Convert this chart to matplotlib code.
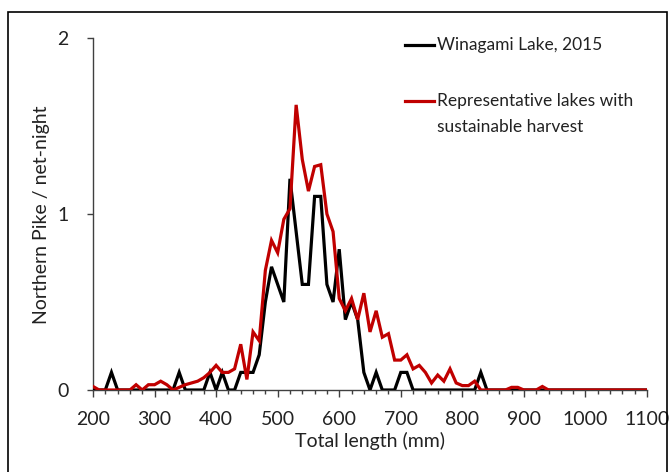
import matplotlib
matplotlib.use('Agg')
import matplotlib.pyplot as plt
import numpy as np
from matplotlib.patches import Rectangle
from matplotlib.ticker import MultipleLocator

plt.rcParams['font.family'] = ['Lato', 'DejaVu Sans']

# total length bins, mm (10 mm steps)
lengths = list(range(200, 1110, 10))

# Winagami Lake, 2015 - pike per net-night
winagami = [
    0, 0, 0, 0.1, 0, 0, 0, 0, 0, 0,            # 200-290
    0, 0, 0, 0, 0.1, 0, 0, 0, 0, 0.1,          # 300-390
    0, 0.1, 0, 0, 0.1, 0.1, 0.1, 0.2, 0.5, 0.7,  # 400-490
    0.6, 0.5, 1.2, 0.9, 0.6, 0.6, 1.1, 1.1, 0.6, 0.5,  # 500-590
    0.8, 0.4, 0.5, 0.4, 0.1, 0, 0.1, 0, 0, 0,  # 600-690
    0.1, 0.1, 0, 0, 0, 0, 0, 0, 0, 0,          # 700-790
    0, 0, 0, 0.1, 0, 0, 0, 0, 0, 0,            # 800-890
    0, 0, 0, 0, 0, 0, 0, 0, 0, 0,              # 900-990
    0, 0, 0, 0, 0, 0, 0, 0, 0, 0,              # 1000-1090
    0,                                         # 1100
]

# representative lakes with sustainable harvest
representative = [
    0.02, 0, 0, 0, 0, 0, 0, 0.03, 0, 0.03,              # 200-290
    0.03, 0.05, 0.03, 0, 0.015, 0.03, 0.04, 0.05, 0.07, 0.1,  # 300-390
    0.14, 0.1, 0.1, 0.12, 0.26, 0.06, 0.33, 0.28, 0.68, 0.85,  # 400-490
    0.78, 0.97, 1.03, 1.62, 1.31, 1.13, 1.27, 1.28, 1.0, 0.9,  # 500-590
    0.52, 0.45, 0.52, 0.4, 0.55, 0.33, 0.45, 0.3, 0.32, 0.17,  # 600-690
    0.17, 0.2, 0.12, 0.14, 0.1, 0.04, 0.085, 0.05, 0.12, 0.04,  # 700-790
    0.025, 0.025, 0.05, 0, 0, 0, 0, 0, 0.015, 0.015,    # 800-890
    0, 0, 0, 0.02, 0, 0, 0, 0, 0, 0,                    # 900-990
    0, 0, 0, 0, 0, 0, 0, 0, 0, 0,                       # 1000-1090
    0,                                                  # 1100
]

label_black = 'Winagami Lake, 2015'
label_red = ['Representative lakes with', 'sustainable harvest']

red = '#C00000'
axis_col = '#404040'
text_col = '#222222'
fs = 14      # ticks and axis titles
fs_leg = 12.5

fig = plt.figure(figsize=(6.71, 4.72), dpi=100)
ax = fig.add_axes([93 / 671, 1 - 390 / 472, 554 / 671, 352 / 472])

ax.plot(lengths, winagami, color='black', lw=2.3, solid_joinstyle='miter', zorder=3)
ax.plot(lengths, representative, color=red, lw=2.3, solid_joinstyle='miter', zorder=4)

ax.set_xlim(200, 1100)
ax.set_ylim(0, 2)
ax.xaxis.set_major_locator(MultipleLocator(100))
ax.xaxis.set_minor_locator(MultipleLocator(20))
ax.yaxis.set_major_locator(MultipleLocator(1))

for s in ['top', 'right']:
    ax.spines[s].set_visible(False)
for s in ['left', 'bottom']:
    ax.spines[s].set_color(axis_col)
    ax.spines[s].set_linewidth(1.0)

ax.tick_params(axis='x', which='major', length=5, width=1, color=axis_col,
               labelsize=fs, labelcolor=text_col, pad=10)
ax.tick_params(axis='x', which='minor', length=3, width=1, color=axis_col)
ax.tick_params(axis='y', which='major', length=4.5, width=1, color=axis_col,
               labelsize=fs, labelcolor=text_col, pad=13)

ax.set_xlabel('Total length (mm)', fontsize=fs, color=text_col, va='center')
ax.set_ylabel('Northern Pike / net-night', fontsize=fs, color=text_col, va='center')
ax.xaxis.set_label_coords(0.5, (390 - 441) / 352)
ax.yaxis.set_label_coords((42 - 93) / 554, (390 - 215) / 352)

# legend drawn by hand so the red key sits on the first text line
ax.plot([0.563, 0.6155], [0.980, 0.980], transform=ax.transAxes, color='black',
        lw=2.3, clip_on=False)
ax.text(0.621, 0.980, label_black, transform=ax.transAxes, va='center',
        fontsize=fs_leg, color=text_col)
ax.plot([0.563, 0.6155], [0.821, 0.821], transform=ax.transAxes, color=red,
        lw=2.3, clip_on=False)
ax.text(0.621, 0.821, label_red[0], transform=ax.transAxes, va='center',
        fontsize=fs_leg, color=text_col)
ax.text(0.621, 0.748, label_red[1], transform=ax.transAxes, va='center',
        fontsize=fs_leg, color=text_col)

# outer frame
fig.patches.append(Rectangle((8 / 671, -0.02), 659 / 671, (472 - 12) / 472 + 0.02,
                             transform=fig.transFigure, fill=False,
                             edgecolor='black', lw=1.2))

fig.savefig('out.png', dpi=100)
